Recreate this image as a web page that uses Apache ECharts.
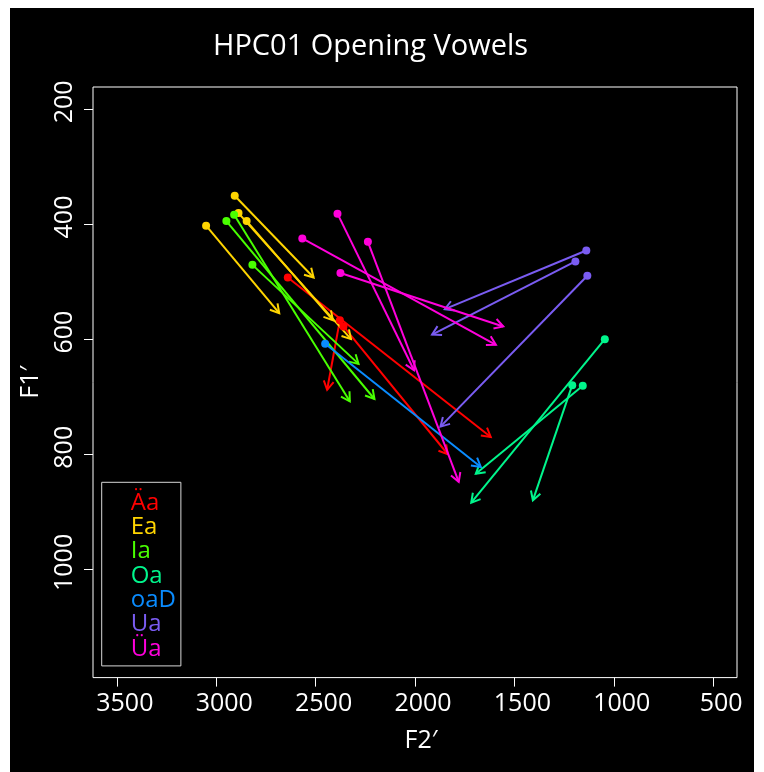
<!DOCTYPE html>
<html>
<head>
<meta charset="utf-8">
<script src="https://cdn.jsdelivr.net/npm/echarts@6/dist/echarts.min.js"></script>
<style>
  html, body { margin: 0; padding: 0; background: #fff; }
  #chart { position: absolute; left: 10px; top: 8px; width: 744px; height: 764px; background: #000; }
</style>
</head>
<body>
<div id="chart"></div>
<script>
// Vowel categories and their colours
const vowels = ['Äa', 'Ea', 'Ia', 'Oa', 'oaD', 'Ua', 'Üa'];
const vowelColors = ['#FF0000', '#FFD500', '#49FF00', '#00F58C', '#0A8CFF', '#7A5CF2', '#FF00DB'];

// Each token: [onset F2', onset F1', offset F2', offset F1'] in Hz
const tokensAa  = [[2640, 493, 1619, 770], [2378, 567, 2442, 688], [2360, 578, 1835, 800]];
const tokensEa  = [[2907, 351, 2510, 493], [3051, 403, 2683, 555], [2888, 381, 2322, 600], [2847, 395, 2413, 567]];
const tokensIa  = [[2949, 395, 2204, 704], [2910, 384, 2328, 708], [2818, 471, 2284, 643]];
const tokensOa  = [[1045, 600, 1717, 884], [1156, 681, 1694, 834], [1209, 680, 1407, 880]];
const tokensOaD = [[2452, 608, 1669, 822]];
const tokensUa  = [[1138, 446, 1850, 548], [1193, 465, 1914, 592], [1133, 490, 1872, 752]];
const tokensUea = [[2390, 382, 2005, 654], [2567, 425, 1593, 610], [2237, 431, 1780, 848], [2375, 485, 1556, 578]];
const tokenSets = [tokensAa, tokensEa, tokensIa, tokensOa, tokensOaD, tokensUa, tokensUea];

// Axis ranges and tick labels
const f2Ticks = [3500, 3000, 2500, 2000, 1500, 1000, 500];
const f1Ticks = [200, 400, 600, 800, 1000];
const f2Range = [380, 3620];
const f1Range = [162, 1188];

const FONT = 'Open Sans';

// Line from onset to offset with an open V arrowhead at the offset
function renderArrow(params, api) {
  const p0 = api.coord([api.value(0), api.value(1)]);
  const p1 = api.coord([api.value(2), api.value(3)]);
  const ang = Math.atan2(p1[1] - p0[1], p1[0] - p0[0]);
  const len = 10, spread = Math.PI / 6;
  const h1 = [p1[0] - len * Math.cos(ang - spread), p1[1] - len * Math.sin(ang - spread)];
  const h2 = [p1[0] - len * Math.cos(ang + spread), p1[1] - len * Math.sin(ang + spread)];
  const color = api.visual('color');
  return {
    type: 'group',
    children: [
      { type: 'line', shape: { x1: p0[0], y1: p0[1], x2: p1[0], y2: p1[1] },
        style: { stroke: color, lineWidth: 2 } },
      { type: 'polyline', shape: { points: [h1, p1, h2] },
        style: { stroke: color, lineWidth: 2, fill: null } }
    ]
  };
}

const arrowSeries = tokenSets.map((set, i) => ({
  name: vowels[i],
  type: 'custom',
  coordinateSystem: 'cartesian2d',
  color: vowelColors[i],
  dimensions: ['f2On', 'f1On', 'f2Off', 'f1Off'],
  encode: { x: [0, 2], y: [1, 3] },
  data: set,
  renderItem: renderArrow,
  silent: true,
  z: 2
}));

const onsetSeries = tokenSets.map((set, i) => ({
  name: vowels[i],
  type: 'scatter',
  color: vowelColors[i],
  symbol: 'circle',
  symbolSize: 8,
  itemStyle: { opacity: 1 },
  data: set.map(t => [t[0], t[1]]),
  silent: true,
  z: 3
}));

const plainNumber = v => String(v);

const chart = echarts.init(document.getElementById('chart'), null, { renderer: 'canvas' });

chart.setOption({
  backgroundColor: '#000',
  animation: false,
  title: {
    text: 'HPC01 Opening Vowels',
    left: 203,
    top: 24,
    padding: 0,
    textStyle: { color: '#fff', fontSize: 29, fontWeight: 'normal', fontFamily: FONT }
  },
  legend: {
    orient: 'vertical',
    left: 91.7,
    top: 474.3,
    icon: 'none',
    itemWidth: 14,
    itemHeight: 10,
    itemGap: 0,
    padding: [8.5, 5, 5, 10],
    borderColor: '#d8d8d8',
    borderWidth: 1,
    selectedMode: false,
    textStyle: { fontSize: 24, lineHeight: 24.3, fontFamily: FONT },
    data: vowels.map((v, i) => ({ name: v, textStyle: { color: vowelColors[i] } }))
  },
  grid: {
    left: 78, top: 79, width: 649, height: 590.6,
    show: true, borderColor: '#fff', borderWidth: 1, backgroundColor: 'transparent'
  },
  xAxis: {
    type: 'value',
    inverse: true,
    min: f2Range[0],
    max: f2Range[1],
    splitLine: { show: false },
    axisLine: { show: false },
    axisTick: { show: true, length: 9, lineStyle: { color: '#fff', width: 1 }, customValues: f2Ticks },
    axisLabel: {
      customValues: f2Ticks,
      formatter: plainNumber,
      color: '#fff', fontSize: 25, fontFamily: FONT,
      margin: 14, padding: [0, 0, 0, 16]
    },
    name: 'F2′',
    nameLocation: 'middle',
    nameGap: 51,
    nameTextStyle: { color: '#fff', fontSize: 25, fontFamily: FONT, padding: [0, 0, 0, 12] }
  },
  yAxis: {
    type: 'value',
    inverse: true,
    min: f1Range[0],
    max: f1Range[1],
    splitLine: { show: false },
    axisLine: { show: false },
    axisTick: { show: true, length: 9, lineStyle: { color: '#fff', width: 1 }, customValues: f1Ticks },
    axisLabel: {
      customValues: f1Ticks,
      formatter: plainNumber,
      rotate: 90,
      color: '#fff', fontSize: 25, fontFamily: FONT,
      margin: 16, padding: [0, 0, 0, 14]
    },
    name: 'F1′',
    nameLocation: 'middle',
    nameGap: 50,
    nameTextStyle: { color: '#fff', fontSize: 25, fontFamily: FONT }
  },
  series: arrowSeries.concat(onsetSeries)
});
</script>
</body>
</html>
